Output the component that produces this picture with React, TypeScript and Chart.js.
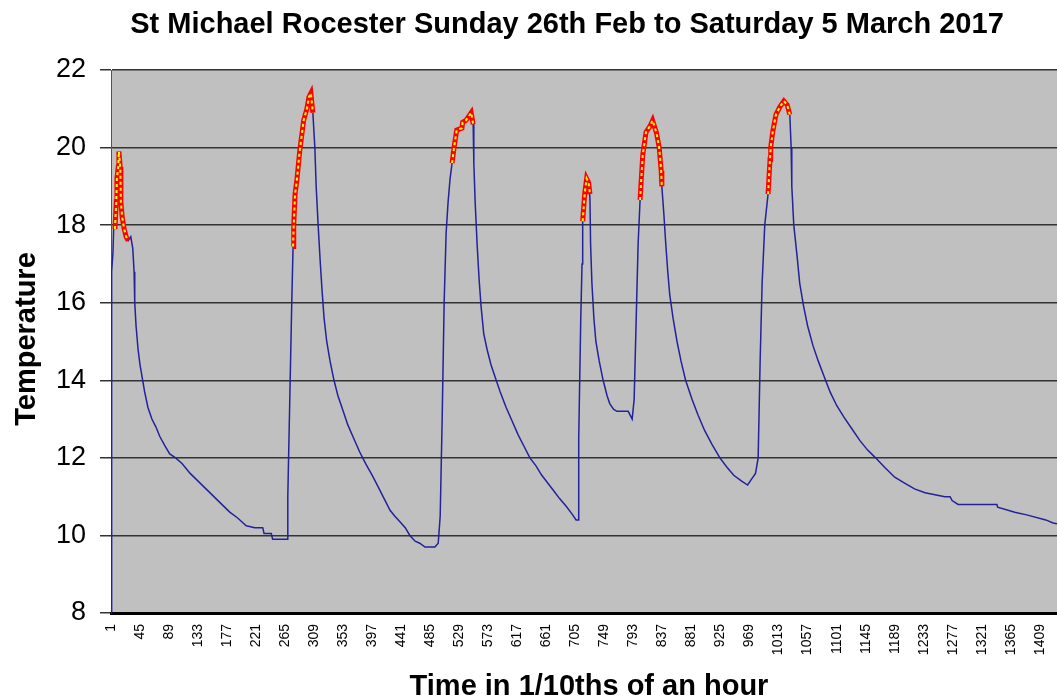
import React, { useEffect, useRef } from 'react';
import { Chart, registerables } from 'chart.js';

Chart.register(...registerables);

const FONT = '"Liberation Sans", Arial, sans-serif';

const chartTitle = 'St Michael Rocester Sunday 26th Feb to Saturday 5 March 2017';
const yAxisTitle = 'Temperature';
const xAxisTitle = 'Time in 1/10ths of an hour';

const xTickLabels = [1, 45, 89, 133, 177, 221, 265, 309, 353, 397, 441, 485, 529, 573, 617, 661, 705, 749, 793, 837, 881, 925, 969, 1013, 1057, 1101, 1145, 1189, 1233, 1277, 1321, 1365, 1409];

// [time (1/10 hour), temperature]
const tempSeries: [number, number][] = [
  [1, 8.0], [2, 16.8], [4, 17.3], [5, 17.9], [7, 18.0], [12, 19.5], [13, 19.9], [16, 18.6], [21, 17.9], [27, 17.6],
  [31, 17.7], [34, 17.4], [36, 16.8], [37, 16.0], [39, 15.4], [42, 14.8], [45, 14.4], [48, 14.1], [52, 13.7], [57, 13.3],
  [63, 13.0], [69, 12.8], [75, 12.55], [83, 12.3], [90, 12.1], [99, 12.0], [109, 11.85], [121, 11.6], [133, 11.4], [145, 11.2],
  [157, 11.0], [169, 10.8], [181, 10.6], [193, 10.45], [206, 10.25], [219, 10.2], [231, 10.2], [233, 10.05], [244, 10.05], [246, 9.9],
  [268, 9.9], [269, 11.0], [272, 13.5], [275, 16.0], [277, 17.45], [278, 18.0], [280, 18.8], [283, 19.2], [287, 19.9], [293, 20.7],
  [298, 21.0], [301, 21.3], [304, 21.4], [307, 20.9], [310, 20.0], [312, 19.0], [315, 18.0], [318, 17.1], [321, 16.3], [324, 15.6],
  [328, 15.0], [333, 14.5], [339, 14.0], [345, 13.6], [353, 13.2], [360, 12.85], [369, 12.5], [378, 12.15], [387, 11.85], [397, 11.55],
  [406, 11.25], [415, 10.95], [424, 10.65], [431, 10.5], [439, 10.35], [447, 10.2], [454, 10.0], [462, 9.85], [469, 9.8], [477, 9.7],
  [492, 9.7], [497, 9.8], [500, 10.5], [503, 13.0], [506, 16.0], [509, 17.8], [512, 18.6], [515, 19.2], [518, 19.6], [521, 20.0],
  [525, 20.45], [533, 20.5], [534, 20.65], [539, 20.7], [547, 20.9], [550, 20.6], [551, 19.6], [553, 18.6], [556, 17.5], [559, 16.6],
  [562, 15.9], [566, 15.2], [571, 14.8], [577, 14.4], [583, 14.1], [591, 13.7], [600, 13.3], [609, 12.95], [618, 12.6], [627, 12.3],
  [636, 12.0], [645, 11.8], [654, 11.55], [663, 11.35], [672, 11.15], [681, 10.95], [691, 10.75], [700, 10.55], [706, 10.4], [709, 10.4],
  [710, 12.5], [713, 15.5], [715, 17.0], [716, 18.1], [719, 18.8], [722, 19.2], [725, 19.1], [727, 18.7], [728, 17.5], [730, 16.5],
  [733, 15.6], [736, 15.0], [741, 14.5], [747, 14.0], [753, 13.6], [757, 13.4], [763, 13.25], [768, 13.2], [785, 13.2], [788, 13.1],
  [791, 13.0], [794, 13.5], [797, 15.5], [800, 17.5], [803, 18.65], [807, 19.8], [812, 20.4], [818, 20.55], [822, 20.7], [828, 20.37],
  [832, 20.0], [835, 19.4], [836, 19.0], [839, 18.3], [842, 17.5], [845, 16.8], [848, 16.2], [853, 15.6], [859, 15.0], [865, 14.5],
  [872, 14.0], [882, 13.5], [891, 13.1], [901, 12.7], [912, 12.35], [924, 12.0], [935, 11.75], [945, 11.55], [957, 11.4], [966, 11.3],
  [972, 11.45], [978, 11.6], [982, 12.0], [985, 14.5], [988, 16.5], [992, 18.0], [997, 18.8], [1000, 19.7], [1001, 20.0], [1004, 20.4],
  [1009, 20.85], [1015, 21.05], [1021, 21.2], [1026, 21.1], [1030, 20.85], [1032, 20.0], [1033, 19.0], [1036, 18.0], [1041, 17.2], [1045, 16.5],
  [1051, 15.9], [1057, 15.4], [1065, 14.9], [1073, 14.5], [1082, 14.1], [1091, 13.7], [1101, 13.35], [1112, 13.05], [1124, 12.75], [1136, 12.45],
  [1148, 12.2], [1160, 12.0], [1174, 11.75], [1189, 11.5], [1204, 11.35], [1219, 11.2], [1235, 11.1], [1250, 11.05], [1265, 11.0], [1273, 11.0],
  [1276, 10.9], [1285, 10.8], [1344, 10.8], [1345, 10.73], [1371, 10.6], [1389, 10.53], [1418, 10.4], [1429, 10.32], [1435, 10.3],
];

// heating periods (highlighted red / yellow)
const heatPeak1: [number, number][] = [[7, 17.9], [9, 18.6], [10, 19.2], [12, 19.5], [13, 19.9], [15, 19.5], [16, 18.6], [18, 18.2], [21, 17.9], [24, 17.7], [27, 17.6]];
const heatPeak2: [number, number][] = [[277, 17.45], [278, 18.0], [280, 18.8], [283, 19.2], [287, 19.9], [293, 20.7], [298, 21.0], [301, 21.3], [304, 21.4], [307, 20.9]];
const heatPeak3: [number, number][] = [[518, 19.6], [521, 20.0], [525, 20.45], [533, 20.5], [534, 20.65], [539, 20.7], [547, 20.9], [550, 20.6]];
const heatPeak4: [number, number][] = [[716, 18.1], [719, 18.8], [722, 19.2], [725, 19.1], [727, 18.8]];
const heatPeak5: [number, number][] = [[803, 18.65], [807, 19.8], [812, 20.4], [818, 20.55], [822, 20.7], [828, 20.37], [832, 20.0], [835, 19.4], [836, 19.0]];
const heatPeak6: [number, number][] = [[997, 18.8], [1000, 19.7], [1001, 20.0], [1004, 20.4], [1009, 20.85], [1015, 21.05], [1021, 21.2], [1026, 21.1], [1030, 20.85]];
const heatPeaks = [heatPeak1, heatPeak2, heatPeak3, heatPeak4, heatPeak5, heatPeak6];

const bgPlugin = {
  id: 'plotBg',
  beforeDraw(chart: any) {
    const { ctx, chartArea } = chart;
    ctx.save();
    ctx.fillStyle = '#C0C0C0';
    ctx.fillRect(chartArea.left, chartArea.top, chartArea.right - chartArea.left, chartArea.bottom - chartArea.top);
    ctx.restore();
  },
};

const textPlugin = {
  id: 'texts',
  afterDraw(chart: any) {
    const { ctx } = chart;
    ctx.save();
    ctx.fillStyle = '#000';
    ctx.textAlign = 'center';
    ctx.textBaseline = 'alphabetic';
    ctx.font = `bold 29px ${FONT}`;
    ctx.fillText(chartTitle, 567, 33);
    ctx.fillText(xAxisTitle, 589, 695);
    ctx.translate(35, 339);
    ctx.rotate(-Math.PI / 2);
    ctx.fillText(yAxisTitle, 0, 0);
    ctx.restore();
  },
};

export default function App() {
  const ref = useRef<HTMLCanvasElement>(null);
  useEffect(() => {
    const canvas = ref.current;
    if (!canvas) return;
    const tempData = tempSeries.map(([x, y]) => ({ x, y }));
    const heatData: { x: number; y: number | null }[] = [];
    heatPeaks.forEach((peak, i) => {
      if (i > 0) heatData.push({ x: peak[0][0] - 1, y: null });
      peak.forEach(([x, y]) => heatData.push({ x, y }));
    });
    const chart = new Chart(canvas, {
      type: 'line',
      data: {
        datasets: [
          { data: heatData as any, borderColor: '#FFFF00', borderWidth: 2, borderDash: [3, 3], pointRadius: 0, spanGaps: false, tension: 0 },
          { data: heatData as any, borderColor: '#FF0000', borderWidth: 5, pointRadius: 0, spanGaps: false, tension: 0 },
          { data: tempData, borderColor: '#22229a', borderWidth: 1.5, pointRadius: 0, tension: 0 },
        ],
      },
      options: {
        responsive: false,
        animation: false,
        events: [],
        layout: { padding: { top: 70, right: 0, left: 0, bottom: 0 } },
        plugins: { legend: { display: false }, tooltip: { enabled: false }, title: { display: false } },
        scales: {
          x: {
            type: 'linear',
            min: 1,
            max: 1435,
            afterBuildTicks: (s: any) => {
              s.ticks = xTickLabels.map((v) => ({ value: v }));
            },
            afterFit: (s: any) => {
              s.height = 87;
              s.paddingLeft = 0;
              s.paddingRight = 0;
            },
            grid: { display: false, drawTicks: false },
            border: { display: true, color: '#000', width: 3 },
            ticks: {
              autoSkip: false,
              minRotation: 90,
              maxRotation: 90,
              padding: 11,
              color: '#000',
              font: { family: FONT, size: 14 },
              callback: (v: any) => String(v),
            },
          },
          y: {
            min: 8,
            max: 22,
            afterFit: (s: any) => {
              s.width = 111;
              s.paddingTop = 0;
              s.paddingBottom = 0;
            },
            ticks: { stepSize: 2, padding: 14, color: '#000', font: { family: FONT, size: 27 } },
            grid: { color: '#333', lineWidth: 1.5, tickLength: 11 },
            border: { display: true, color: '#555', width: 1 },
          },
        },
      },
      plugins: [bgPlugin, textPlugin],
    });
    return () => chart.destroy();
  }, []);
  return (
    <div style={{ position: 'absolute', left: 0, top: 0, width: 1057, height: 700, background: '#fff' }}>
      <canvas ref={ref} width={1057} height={700} style={{ display: 'block' }} />
    </div>
  );
}
